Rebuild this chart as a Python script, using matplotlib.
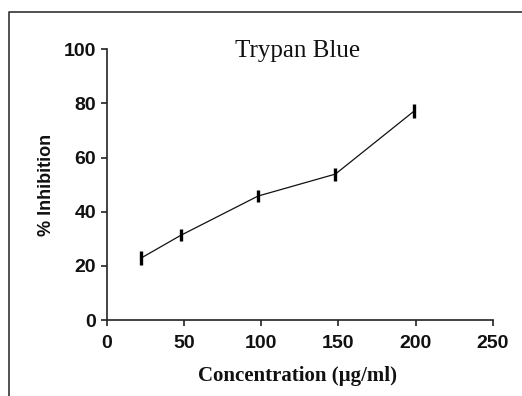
import matplotlib
matplotlib.use('Agg')
import matplotlib.pyplot as plt
from matplotlib.lines import Line2D

# values
concentration = [22, 48, 98, 148, 199]
inhibition = [22.8, 31.3, 45.8, 53.9, 77.2]
inhibition_err = [2.6, 2.2, 2.3, 2.4, 2.5]

x_ticks = [0, 50, 100, 150, 200, 250]
y_ticks = [0, 20, 40, 60, 80, 100]

fig = plt.figure(figsize=(5.22, 3.96), dpi=100, facecolor='white')
ax = fig.add_axes([0.2044, 0.1919, 0.7400, 0.6836])

ax.plot(concentration, inhibition, color='#111111', lw=0.9, zorder=2)
ax.errorbar(concentration, inhibition, yerr=inhibition_err, fmt='none',
            ecolor='black', elinewidth=2.4, capsize=0, zorder=3)

ax.set_xlim(0, 250)
ax.set_ylim(0, 100)
ax.set_xticks(x_ticks)
ax.set_yticks(y_ticks)

for side in ['top', 'right']:
    ax.spines[side].set_visible(False)
for side in ['left', 'bottom']:
    ax.spines[side].set_linewidth(1.2)
    ax.spines[side].set_color('#222222')

tick_font = dict(family='Liberation Sans', weight='bold', size=14)
ax.tick_params(axis='both', direction='out', length=4.5, width=1.2, color='#222222')
ax.tick_params(axis='x', pad=6)
ax.tick_params(axis='y', pad=3)
for lab in ax.get_xticklabels() + ax.get_yticklabels():
    lab.set_fontproperties(tick_font)
    lab.set_color('#111111')

ax.set_xlabel('Concentration (µg/ml)', family='Liberation Serif', weight='bold',
              size=15, color='#111111', va='center')
ax.xaxis.set_label_coords(0.495, -0.205)
ax.set_ylabel('% Inhibition', family='Liberation Sans', weight='bold',
              size=13, color='#111111', va='center')
ax.yaxis.set_label_coords(-0.157, 0.5)

ax.text(0.494, 0.973, 'Trypan Blue', transform=ax.transAxes, ha='center',
        va='baseline', family='Liberation Serif', size=18, color='#111111')

# frame around the figure (left and top edges visible)
fx = 9 / 522
fy = 1 - 12 / 396
fig.add_artist(Line2D([fx, fx, 1.0], [0.0, fy, fy], transform=fig.transFigure,
                      color='#333333', lw=1.2))

fig.savefig('out.png', dpi=100, facecolor='white')
